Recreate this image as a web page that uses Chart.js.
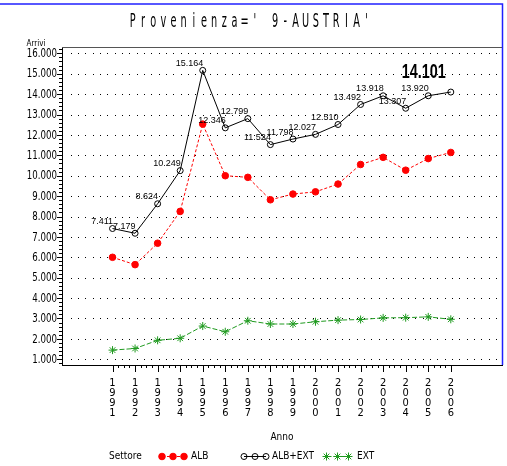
<!DOCTYPE html>
<html>
<head>
<meta charset="utf-8">
<script src="https://cdn.jsdelivr.net/npm/chart.js@4.4.0/dist/chart.umd.min.js"></script>
<style>
  html, body { margin: 0; padding: 0; background: #fff; }
  canvas { display: block; }
</style>
</head>
<body>
<canvas id="chart" width="507" height="466"></canvas>
<script>
// data
var years = [1991, 1992, 1993, 1994, 1995, 1996, 1997, 1998, 1999, 2000, 2001, 2002, 2003, 2004, 2005, 2006];
var albValues = [6000, 5640, 6690, 8250, 12530, 10000, 9920, 8820, 9100, 9210, 9590, 10550, 10900, 10270, 10840, 11140];
var albExtValues = [7411, 7179, 8624, 10249, 15164, 12346, 12799, 11524, 11798, 12027, 12510, 13492, 13918, 13307, 13920, 14101];
var extValues = [1450, 1530, 1930, 2030, 2630, 2350, 2890, 2730, 2730, 2840, 2920, 2950, 3030, 3040, 3080, 2960];
var yTickValues = [1000, 2000, 3000, 4000, 5000, 6000, 7000, 8000, 9000, 10000, 11000, 12000, 13000, 14000, 15000, 16000];
var titleText = "Provenienza=' 9-AUSTRIA'";
var seriesNames = ['ALB', 'ALB+EXT', 'EXT'];

var narrow = '"Liberation Sans Narrow", "DejaVu Sans Condensed", "Liberation Sans", sans-serif';
var red = '#ff0000';
var green = '#1f9a1f';

function itNumber(v) {
  return String(v).replace(/\B(?=(\d{3})+(?!\d))/g, '.');
}

function points(values) {
  return years.map(function (yr, i) { return { x: yr, y: values[i] }; });
}

// dotted grid, drawn under the lines
var dottedGrid = {
  id: 'dottedGrid',
  beforeDatasetsDraw: function (chart) {
    var ctx = chart.ctx;
    var a = chart.chartArea;
    var y = chart.scales.y;
    ctx.save();
    ctx.fillStyle = '#000';
    y.ticks.forEach(function (t) {
      var py = Math.round(y.getPixelForValue(t.value));
      for (var px = a.left + 8.7; px < 500; px += 7.33) {
        ctx.fillRect(Math.round(px), py, 1, 1);
      }
    });
    ctx.restore();
  }
};

// everything else the library doesn't draw on its own
var extras = {
  id: 'extras',
  afterDraw: function (chart) {
    var ctx = chart.ctx;
    var a = chart.chartArea;
    var x = chart.scales.x;
    var y = chart.scales.y;
    ctx.save();

    // blue outer frame
    ctx.strokeStyle = '#2020ff';
    ctx.lineWidth = 1.5;
    ctx.beginPath();
    ctx.moveTo(0, 4);
    ctx.lineTo(502.5, 4);
    ctx.lineTo(502.5, a.bottom);
    ctx.stroke();

    // gray top line of the plot box
    ctx.strokeStyle = '#555';
    ctx.lineWidth = 1;
    ctx.beginPath();
    ctx.moveTo(a.left, a.top + 0.5);
    ctx.lineTo(502, a.top + 0.5);
    ctx.stroke();

    // title, spread out like the original
    ctx.fillStyle = '#000';
    ctx.font = '12px ' + narrow;
    ctx.textAlign = 'center';
    ctx.textBaseline = 'alphabetic';
    var cell = 10.17;
    var startX = 127.7;
    for (var i = 0; i < titleText.length; i++) {
      ctx.save();
      ctx.translate(startX + (i + 0.5) * cell, 27.3);
      ctx.scale(0.9, 1.6);
      ctx.fillText(titleText[i], 0, 0);
      ctx.restore();
    }

    // y axis caption
    ctx.font = '8px ' + narrow;
    ctx.fillText('Arrivi', 36, 46);

    // y tick labels, narrow and tall
    ctx.textAlign = 'right';
    ctx.textBaseline = 'middle';
    ctx.font = '12px ' + narrow;
    y.ticks.forEach(function (t) {
      ctx.save();
      ctx.translate(a.left - 5, y.getPixelForValue(t.value) + 0.5);
      ctx.scale(0.8, 1);
      ctx.fillText(t.label, 0, 0);
      ctx.restore();
    });

    // y ticks, major and minor
    ctx.strokeStyle = '#000';
    ctx.lineWidth = 1;
    ctx.beginPath();
    for (var v = 800; v <= 16200; v += 200) {
      var py = Math.round(y.getPixelForValue(v)) + 0.5;
      var len = (v % 1000 === 0) ? 5 : 3;
      ctx.moveTo(a.left - len, py);
      ctx.lineTo(a.left, py);
    }
    // x ticks, major and minor
    for (var t = 0; t <= (years.length - 1) * 4; t++) {
      var px = Math.round(x.getPixelForValue(years[0] + t / 4)) + 0.5;
      var l2 = (t % 4 === 0) ? 7 : 3;
      ctx.moveTo(px, a.bottom);
      ctx.lineTo(px, a.bottom + l2);
    }
    ctx.stroke();

    // value labels on ALB+EXT
    var meta = chart.getDatasetMeta(1);
    ctx.fillStyle = '#000';
    ctx.font = '9px "Liberation Sans", Arial, sans-serif';
    ctx.textAlign = 'right';
    ctx.textBaseline = 'alphabetic';
    for (var k = 0; k < meta.data.length - 1; k++) {
      var pt = meta.data[k];
      ctx.fillText(itNumber(albExtValues[k]), pt.x + 0.5, pt.y - 4.5);
    }
    var last = meta.data[meta.data.length - 1];
    ctx.save();
    ctx.translate(last.x - 27, last.y - 14);
    ctx.scale(0.72, 1);
    ctx.font = 'bold 20px "Liberation Sans", Arial, sans-serif';
    ctx.textAlign = 'center';
    ctx.fillText(itNumber(albExtValues[albExtValues.length - 1]), 0, 0);
    ctx.restore();

    // x axis caption
    ctx.font = '10px ' + narrow;
    ctx.textAlign = 'center';
    ctx.textBaseline = 'middle';
    ctx.fillText('Anno', (a.left + a.right) / 2, 437.5);

    // legend
    var ly = 456.5;
    ctx.textAlign = 'left';
    ctx.fillText('Settore', 109, ly);
    var items = [
      { x0: 162, tx: 191, color: red, dash: [3, 2], style: 'circle', r: 3.3, fill: red },
      { x0: 244, tx: 272, color: '#000', dash: [], style: 'circle', r: 3, fill: 'rgba(0,0,0,0)' },
      { x0: 326.5, tx: 357, color: green, dash: [5, 2], style: 'star', r: 4, fill: green }
    ];
    items.forEach(function (it, i) {
      ctx.strokeStyle = it.color;
      ctx.lineWidth = 1;
      ctx.setLineDash(it.dash);
      ctx.beginPath();
      ctx.moveTo(it.x0, ly);
      ctx.lineTo(it.x0 + 22, ly);
      ctx.stroke();
      ctx.setLineDash([]);
      ctx.fillStyle = it.fill;
      for (var j = 0; j < 3; j++) {
        Chart.helpers.drawPoint(ctx, { pointStyle: it.style, radius: it.r, rotation: 0, borderWidth: 1 }, it.x0 + j * 11, ly);
      }
      ctx.fillStyle = '#000';
      ctx.fillText(seriesNames[i], it.tx, ly);
    });

    ctx.restore();
  }
};

new Chart(document.getElementById('chart'), {
  type: 'line',
  data: {
    datasets: [
      {
        label: seriesNames[0],
        data: points(albValues),
        borderColor: red,
        borderWidth: 1,
        borderDash: [3, 2],
        pointStyle: 'circle',
        pointRadius: 3.3,
        pointBackgroundColor: red,
        pointBorderColor: red,
        pointBorderWidth: 1
      },
      {
        label: seriesNames[1],
        data: points(albExtValues),
        borderColor: '#000',
        borderWidth: 1,
        pointStyle: 'circle',
        pointRadius: 3,
        pointBackgroundColor: 'rgba(0,0,0,0)',
        pointBorderColor: '#000',
        pointBorderWidth: 1
      },
      {
        label: seriesNames[2],
        data: points(extValues),
        borderColor: green,
        borderWidth: 1,
        borderDash: [5, 2],
        pointStyle: 'star',
        pointRadius: 4,
        pointBorderColor: green,
        pointBorderWidth: 1
      }
    ]
  },
  options: {
    responsive: false,
    animation: false,
    layout: { padding: { top: 47, right: 4, bottom: 0, left: 0 } },
    elements: { line: { tension: 0 } },
    plugins: {
      legend: { display: false },
      title: { display: false },
      tooltip: { enabled: false }
    },
    scales: {
      x: {
        type: 'linear',
        min: 1988.76,
        max: 2008.27,
        afterBuildTicks: function (s) { s.ticks = years.map(function (v) { return { value: v }; }); },
        afterFit: function (s) { s.height = 101; },
        grid: { display: false, drawTicks: false },
        border: { display: true, color: '#000', width: 1 },
        ticks: {
          autoSkip: false,
          maxRotation: 0,
          padding: 13,
          color: '#000',
          font: { family: narrow, size: 11, lineHeight: '10px' },
          callback: function (v) { return String(v).split(''); }
        }
      },
      y: {
        min: 720,
        max: 16310,
        afterBuildTicks: function (s) { s.ticks = yTickValues.map(function (v) { return { value: v }; }); },
        afterFit: function (s) { s.width = 62; },
        grid: { display: false, drawTicks: false },
        border: { display: true, color: '#000', width: 1 },
        ticks: {
          display: false,
          callback: function (v) { return itNumber(v); }
        }
      }
    }
  },
  plugins: [dottedGrid, extras]
});
</script>
</body>
</html>
